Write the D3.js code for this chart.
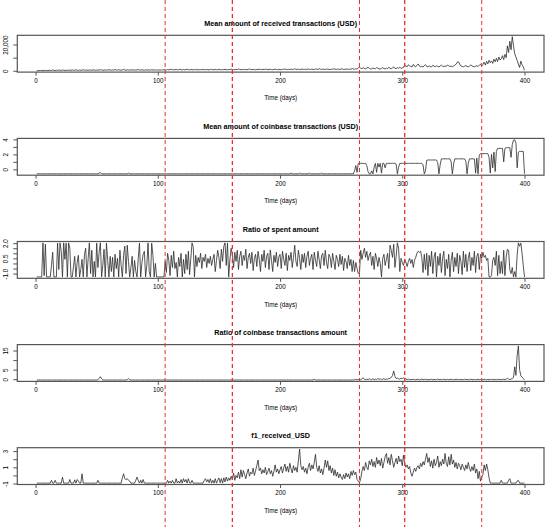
<!DOCTYPE html>
<head>
<meta charset="utf-8">
<style>
  body { margin:0; background:#fff; }
  text { font-family: "Liberation Sans", Arial, sans-serif; fill:#000; }
  .title { font-weight:bold; font-size:7.2px; }
  .tick text { font-size:6.3px; }
  .xlab { font-size:6.3px; }
  .series { fill:none; stroke:#2b2b2b; stroke-width:0.8px; stroke-linejoin:round; }
  .frame { fill:none; stroke:#555; stroke-width:1.2px; }
  .event { stroke:#ee2c2c; stroke-dasharray:4,3; }
</style>
</head>
<body>
<script src="https://cdn.jsdelivr.net/npm/d3@7"></script>
<script>

var width = 550,
    height = 527;

// days 1..400, one value per day
var days = d3.range(1, 401);

var eventDays = [106, 161, 265, 302, 365];

var titles = ["Mean amount of received transactions (USD)",
              "Mean amount of coinbase transactions (USD)",
              "Ratio of spent amount",
              "Ratio of coinbase transactions amount",
              "f1_received_USD"];

var xTicks = [0, 100, 200, 300, 400];

var yTicks1 = [0, 10000, 20000],        yLabels1 = ["0", "", "20,000"];
var yTicks2 = [0, 1, 2, 3, 4],          yLabels2 = ["0", "", "2", "", "4"];
var yTicks3 = [-1, -0.5, 0, 0.5, 1, 1.5, 2], yLabels3 = ["-1.0", "", "", "0.5", "", "", "2.0"];
var yTicks4 = [0, 5, 10, 15],           yLabels4 = ["0", "5", "", "15"];
var yTicks5 = [-1, 0, 1, 2, 3],         yLabels5 = ["-1", "", "1", "", "3"];

var receivedUSD = [
  0,120,80,200,150,90,310,180,240,120,400,260,150,700,220,180,350,260,520,310,
  240,600,350,180,420,300,520,260,380,650,300,450,720,380,260,540,410,330,800,460,
  380,520,290,610,450,370,700,520,330,480,640,400,900,560,420,380,700,510,460,820,
  540,380,620,470,900,600,450,720,520,380,640,980,560,430,700,520,610,450,760,540,
  420,680,530,900,610,470,750,520,380,660,480,720,560,420,810,600,470,690,530,450,
  620,480,700,560,850,640,500,900,700,820,1100,800,650,950,720,880,640,1200,780,650,
  900,700,820,1150,860,700,980,820,640,1050,830,700,950,660,880,760,1020,700,830,950,
  760,650,900,1100,800,690,980,870,720,1150,830,650,900,760,1020,870,690,940,800,1250,
  940,830,720,1050,900,1300,1000,800,940,720,1080,900,790,1010,1400,940,830,1080,870,760,
  1010,870,1200,940,800,1080,900,1300,1010,830,940,1150,870,760,1050,1230,940,830,1080,900,
  800,1150,970,1400,1010,870,1080,940,1230,1050,900,1550,1080,940,1200,1010,870,1300,1080,970,
  1150,940,1450,1080,970,1230,1050,900,1380,1120,1010,1600,1150,970,1270,1080,940,1340,1150,1050,
  940,1230,1080,1520,1150,1010,1300,1120,970,1450,1230,1080,1010,1380,1150,1050,1270,1120,1700,1300,
  1200,1500,1300,2200,2800,1800,1500,2400,1700,1400,2000,2600,1800,1500,1300,2100,1700,1500,2400,1900,
  1500,1300,1800,2300,1700,1400,2000,1600,2600,1900,1500,2200,3000,1800,1600,2300,1900,2800,1700,2200,
  2500,4200,3600,3000,4500,3800,3200,2900,4800,3500,3100,4000,5200,3600,3000,3400,2800,3900,4600,3300,
  3000,3700,3200,2900,4100,3500,3100,3800,3300,2900,3600,4300,3500,3100,3700,3300,4400,3800,3200,3500,
  3000,3600,4200,5000,6500,6800,5000,3600,3200,3000,3500,3900,3300,3000,3600,4400,3700,3200,3000,3400,
  3800,3200,4200,5000,3600,4800,6500,4300,7200,5200,8000,6100,7500,5600,8800,6800,9500,7000,10500,8200,
  9000,11500,8500,12500,10000,19000,14000,22500,16000,26000,19000,13000,10500,8000,5000,2500,7300,4500,3000,400
];

var coinbaseUSD = [
  -0.6,-0.6,-0.6,-0.6,-0.6,-0.6,-0.6,-0.6,-0.6,-0.6,-0.6,-0.6,-0.6,-0.6,-0.6,-0.6,-0.6,-0.6,-0.6,-0.6,
  -0.6,-0.6,-0.6,-0.6,-0.6,-0.6,-0.6,-0.6,-0.6,-0.6,-0.6,-0.6,-0.6,-0.6,-0.6,-0.6,-0.6,-0.6,-0.6,-0.6,
  -0.6,-0.6,-0.6,-0.6,-0.6,-0.6,-0.6,-0.6,-0.6,-0.6,-0.6,-0.5,-0.45,-0.55,-0.6,-0.6,-0.6,-0.6,-0.6,-0.6,
  -0.6,-0.6,-0.6,-0.6,-0.6,-0.6,-0.6,-0.6,-0.6,-0.6,-0.6,-0.6,-0.6,-0.6,-0.6,-0.5,-0.6,-0.6,-0.6,-0.6,
  -0.6,-0.6,-0.6,-0.6,-0.6,-0.6,-0.6,-0.6,-0.6,-0.6,-0.6,-0.6,-0.6,-0.6,-0.6,-0.6,-0.6,-0.6,-0.6,-0.6,
  -0.6,-0.6,-0.6,-0.6,-0.6,-0.6,-0.6,-0.6,-0.6,-0.6,-0.6,-0.6,-0.6,-0.6,-0.6,-0.6,-0.6,-0.6,-0.6,-0.6,
  -0.6,-0.6,-0.6,-0.6,-0.6,-0.6,-0.6,-0.6,-0.6,-0.6,-0.6,-0.6,-0.6,-0.6,-0.6,-0.6,-0.6,-0.6,-0.6,-0.6,
  -0.6,-0.6,-0.6,-0.6,-0.6,-0.6,-0.6,-0.6,-0.6,-0.6,-0.6,-0.6,-0.6,-0.6,-0.6,-0.6,-0.6,-0.6,-0.6,-0.6,
  -0.6,-0.6,-0.6,-0.6,-0.6,-0.6,-0.6,-0.6,-0.6,-0.6,-0.6,-0.6,-0.6,-0.6,-0.6,-0.6,-0.6,-0.6,-0.6,-0.6,
  -0.6,-0.6,-0.6,-0.6,-0.6,-0.6,-0.6,-0.6,-0.6,-0.6,-0.6,-0.6,-0.6,-0.6,-0.6,-0.6,-0.6,-0.6,-0.6,-0.6,
  -0.6,-0.6,-0.6,-0.6,-0.6,-0.6,-0.6,-0.6,-0.5,-0.6,-0.6,-0.6,-0.6,-0.6,-0.6,-0.5,-0.6,-0.6,-0.6,-0.6,
  -0.6,-0.6,-0.6,-0.5,-0.6,-0.6,-0.6,-0.6,-0.6,-0.6,-0.6,-0.6,-0.6,-0.5,-0.6,-0.6,-0.6,-0.6,-0.6,-0.6,
  -0.6,-0.6,-0.6,-0.6,-0.6,-0.6,-0.6,-0.6,-0.6,-0.6,-0.6,-0.6,-0.6,-0.6,-0.6,-0.6,-0.6,-0.6,-0.6,-0.6,
  -0.2,0.5,-0.4,0.8,0.75,0.8,0.8,0.8,0.75,0.8,0.5,-0.3,-0.6,-0.6,-0.2,-0.6,0.3,0.8,-0.4,0.8,
  0.3,0.8,-0.5,0.8,0.8,0.2,0.8,0.8,0.8,0.8,0.8,0.8,0.8,0.8,0.7,-0.6,0.3,0.8,0.8,0.8,
  0.8,0.8,0.8,0.8,0.8,0.8,0.8,0.8,0.8,0.8,0.8,0.8,0.8,0.8,0.8,0.8,0.6,-0.6,-0.2,1.2,
  1.25,1.25,1.25,1.25,1.25,1.25,1.25,1.25,0.9,-0.6,0.6,1.4,1.4,1.4,1.4,1.4,1.4,1.4,1.4,1.0,
  -0.6,0.7,1.4,1.4,1.4,1.4,1.4,1.4,1.4,1.4,1.4,1.1,-0.6,0.8,1.4,1.4,1.4,1.4,1.4,-0.5,
  1.5,-0.6,1.9,2.1,2.1,2.1,2.1,2.1,2.1,2.1,1.6,-0.5,2.0,0.2,2.3,-0.3,2.4,2.8,2.8,2.8,
  2.8,2.8,1.0,2.8,2.9,2.9,2.9,2.9,1.6,3.3,3.9,3.95,3.5,0.2,2.3,2.4,2.4,2.4,2.4,-0.6
];

var spentRatio = [
  -1.33,-1.33,-1.33,-1.33,-1.33,2.03,-1.2,1.9,-1.33,-1.33,-1.33,-1.33,-0.2,1.1,-1.33,-1.33,-1.33,2.0,-0.6,2.03,
  1.2,-1.33,2.03,0.4,2.0,-1.33,2.03,1.5,-1.33,-1.33,-0.3,0.7,-1.33,0.1,0.8,-1.33,-0.6,0.4,-1.33,0.9,
  1.5,-1.33,0.5,2.03,-1.0,1.3,-1.33,0.2,-1.33,2.0,-0.4,1.1,2.03,-1.33,-0.2,1.4,-1.33,2.0,0.3,-1.33,
  0.7,-0.8,0.6,-1.33,0.9,-0.5,0.5,-1.33,1.3,-0.2,-1.33,0.8,1.7,-1.0,1.8,0.2,-1.33,-0.4,0.7,-1.33,
  0.3,-0.8,-1.33,0.5,2.0,-1.33,0.1,0.9,1.2,-1.33,-0.2,2.03,-0.8,-1.33,2.0,0.8,-1.33,0.0,-1.33,-1.33,
  -1.33,-1.33,-1.33,-1.33,-1.33,0.2,-0.9,1.0,0.3,-1.2,0.8,-0.4,1.2,-0.5,0.1,-1.33,0.6,-0.3,1.0,-1.33,
  0.4,-1.0,0.9,-0.6,1.2,-1.1,0.5,2.03,1.6,-1.33,0.8,-0.3,0.6,0.1,1.0,-0.5,0.6,0.2,0.9,-0.4,
  0.5,0.0,0.7,-0.2,0.4,0.9,-0.8,0.3,1.3,0.6,-0.5,1.4,0.2,1.7,2.03,-0.2,2.0,-1.33,0.4,1.5,
  0.9,-0.4,1.1,0.2,1.3,-0.6,0.7,1.2,-0.2,0.8,0.3,1.4,-0.5,0.6,1.0,0.0,1.1,-0.7,0.5,0.9,
  -0.3,1.2,0.4,-0.8,0.9,0.2,1.3,-0.4,0.7,1.0,-0.6,1.33,0.3,-0.8,0.8,0.1,1.1,-0.3,0.6,0.9,
  -0.5,1.2,0.4,-0.2,1.0,-0.7,0.8,0.3,1.1,-0.4,0.6,1.8,0.2,-0.3,1.3,0.5,-0.6,0.9,0.1,1.0,
  -0.4,0.7,1.2,-0.2,0.5,0.9,-0.6,1.1,0.3,-0.3,1.2,0.4,-0.5,0.8,1.0,-0.2,1.3,0.1,-0.5,0.9,
  0.6,-0.4,1.0,0.2,-0.6,0.8,0.4,-0.3,0.9,-0.1,0.7,-0.7,0.5,0.2,-0.5,0.8,-0.2,0.4,-0.8,0.3,
  -0.8,0.1,-0.5,-1.0,-0.9,1.3,0.4,1.0,1.5,0.6,1.2,0.3,0.8,1.1,-0.2,0.7,-0.6,1.0,0.5,-0.3,
  0.6,0.0,-1.33,0.5,0.9,-0.2,0.4,1.0,-0.5,1.8,1.3,0.6,1.9,-0.4,0.7,2.03,1.5,-0.8,0.5,0.1,
  -0.2,0.4,0.1,-0.3,0.2,0.5,0.0,0.4,-0.4,0.3,0.6,1.0,1.2,1.1,1.2,0.6,-0.9,0.9,-0.6,1.0,
  -1.2,0.8,-0.3,1.2,-1.0,0.6,1.1,-1.33,0.7,-0.2,1.0,-0.9,0.5,1.2,-1.2,0.4,-0.5,0.9,-1.33,0.3,
  1.1,-0.8,0.6,-0.3,1.0,-1.0,0.8,0.2,-1.1,1.2,-0.4,0.9,-0.8,0.5,1.1,-0.7,0.6,-0.2,1.2,-0.9,
  0.7,1.0,-0.6,0.9,0.5,1.1,0.6,0.8,0.3,0.5,-1.33,-1.33,-1.2,0.3,0.6,-0.2,1.2,-1.2,0.8,-1.0,
  0.2,-1.0,1.3,-1.2,0.6,1.4,1.3,-0.6,-1.0,-0.4,-1.33,-0.8,-1.33,0.9,2.03,1.7,2.0,1.0,-0.2,-1.33
];

var coinbaseRatio = [
  -0.45,-0.45,-0.4,-0.45,-0.45,-0.4,-0.45,-0.45,-0.45,-0.4,-0.45,-0.45,-0.4,-0.45,-0.45,-0.45,-0.4,-0.45,-0.45,-0.45,
  -0.4,-0.45,-0.45,-0.45,-0.4,-0.45,-0.45,-0.4,-0.45,-0.45,-0.45,-0.4,-0.45,-0.45,-0.45,-0.4,-0.45,-0.45,-0.4,-0.45,
  -0.45,-0.4,-0.45,-0.45,-0.45,-0.4,-0.45,-0.45,-0.4,-0.45,-0.3,0.4,1.3,0.2,-0.4,-0.45,-0.45,-0.4,-0.45,-0.45,
  -0.45,-0.4,-0.45,-0.45,-0.4,-0.45,-0.45,-0.45,-0.4,-0.45,-0.45,-0.4,-0.45,-0.45,-0.2,0.4,-0.3,-0.45,-0.45,-0.4,
  -0.45,-0.45,-0.4,-0.45,-0.45,-0.45,-0.4,-0.45,-0.45,-0.4,-0.45,-0.45,-0.45,-0.4,-0.45,-0.45,-0.4,-0.45,-0.45,-0.45,
  -0.4,-0.45,-0.45,-0.4,-0.45,-0.45,-0.45,-0.4,-0.45,-0.45,-0.4,-0.45,-0.45,-0.45,-0.4,-0.45,-0.45,-0.4,-0.45,-0.45,
  -0.45,-0.4,-0.45,-0.45,-0.4,-0.45,-0.45,-0.45,-0.4,-0.45,-0.45,-0.4,-0.45,-0.45,-0.45,-0.4,-0.45,-0.45,-0.4,-0.45,
  -0.45,-0.45,-0.4,-0.45,-0.45,-0.4,-0.45,-0.45,-0.45,-0.4,-0.45,-0.45,-0.4,-0.45,-0.45,-0.45,-0.4,-0.45,-0.45,-0.4,
  -0.45,-0.45,-0.45,-0.4,-0.45,-0.45,-0.4,-0.45,-0.45,-0.45,-0.4,-0.45,-0.45,-0.4,-0.45,-0.45,-0.45,-0.4,-0.45,-0.45,
  -0.4,-0.45,-0.45,-0.45,-0.4,-0.45,-0.45,-0.4,-0.45,-0.45,-0.45,-0.4,-0.45,-0.45,-0.4,-0.45,-0.45,-0.45,-0.4,-0.45,
  -0.45,-0.4,-0.45,-0.45,-0.45,-0.4,-0.45,-0.45,-0.4,-0.45,-0.45,-0.45,-0.4,-0.45,-0.45,-0.4,-0.45,-0.45,-0.45,-0.4,
  -0.45,-0.45,-0.4,-0.45,-0.45,-0.45,-0.4,0.0,-0.4,-0.45,-0.45,-0.4,-0.45,-0.45,-0.45,-0.4,-0.45,-0.45,-0.4,-0.45,
  -0.45,-0.45,-0.4,-0.45,-0.45,-0.4,-0.45,-0.45,-0.45,-0.4,-0.45,-0.45,-0.4,-0.45,-0.45,-0.45,-0.4,-0.45,-0.45,-0.4,
  -0.3,-0.1,-0.35,-0.2,0.1,-0.3,0.2,0.8,-0.1,-0.3,0.0,-0.2,0.3,-0.3,-0.1,0.2,-0.3,0.0,-0.2,0.3,
  -0.1,0.2,-0.3,0.0,0.3,-0.2,0.1,0.0,0.3,0.5,0.9,2.0,4.3,1.5,0.3,0.6,0.2,0.0,0.5,0.3,
  0.7,0.4,0.1,-0.2,0.0,-0.3,-0.1,-0.3,0.0,-0.2,-0.3,-0.1,0.0,-0.3,-0.2,0.1,-0.3,-0.2,0.0,-0.3,
  -0.1,-0.3,-0.2,0.0,-0.3,-0.1,-0.3,-0.2,0.1,-0.3,-0.2,-0.1,-0.3,0.0,-0.2,-0.3,-0.1,-0.3,-0.2,0.0,
  -0.3,-0.2,-0.1,-0.3,0.0,-0.2,-0.3,-0.1,-0.3,-0.2,0.0,-0.3,-0.1,-0.2,-0.3,0.0,-0.2,-0.3,-0.1,-0.3,
  -0.2,0.0,-0.3,-0.1,-0.2,-0.3,0.0,-0.2,-0.3,-0.1,-0.3,-0.2,0.0,-0.3,-0.1,-0.2,-0.3,0.0,-0.2,-0.3,
  -0.1,-0.2,0.0,-0.3,0.1,0.5,0.0,-0.2,0.1,0.3,0.8,6.5,2.0,12.6,17.4,5.0,1.8,1.0,0.4,-0.4
];

var f1Received = [
  -0.95,-0.95,-0.95,-0.95,-0.95,-0.95,-0.95,-0.95,-0.95,-0.95,-0.95,-0.95,-0.6,-0.95,-0.95,-0.6,-0.95,-0.95,-0.95,-0.95,
  -0.95,-0.2,-0.95,-0.95,-0.95,-0.95,-0.95,-0.5,-0.95,-0.95,-0.95,-0.55,-0.95,-0.5,-0.7,-0.95,-0.95,0.2,-0.95,-0.95,
  -0.95,-0.95,-0.95,-0.95,-0.95,-0.95,-0.95,-0.95,-0.95,-0.95,-0.6,-0.95,-0.95,-0.95,-0.95,-0.95,-0.95,-0.95,-0.95,-0.95,
  -0.95,-0.95,-0.95,-0.95,-0.95,-0.95,-0.95,-0.95,-0.95,-0.95,-0.3,0.2,-0.4,-0.5,-0.4,-0.6,-0.7,-0.95,-0.95,-0.95,
  -0.95,-0.6,-0.2,-0.6,-0.95,-0.6,-0.95,-0.5,-0.95,-0.95,-0.95,-0.95,-0.95,-0.95,-0.95,-0.95,-0.95,-0.95,-0.95,-0.95,
  -0.95,-0.95,-0.95,-0.95,-0.95,-0.95,-0.95,-0.6,-0.95,-0.7,-0.95,-0.6,-0.95,-0.95,-0.4,-0.95,-0.7,-0.95,-0.5,-0.95,
  -0.4,-0.8,-0.5,-0.95,-0.4,-0.9,-0.95,-0.6,-0.95,-0.95,-0.95,-0.95,-0.95,-0.95,-0.95,-0.95,-0.95,-0.6,-0.4,-0.8,
  -0.5,-0.9,-0.4,-0.95,-0.6,-0.95,-0.4,-0.95,-0.6,-0.3,-0.9,-0.4,-0.95,-0.3,-0.8,-0.2,-0.7,-0.3,-0.6,-0.1,
  -0.5,0.3,-0.6,0.0,-0.3,0.4,-0.4,0.7,-0.2,0.6,0.1,-0.4,0.3,0.8,-0.1,0.4,0.2,0.9,0.0,0.6,
  1.2,1.9,0.6,0.9,0.2,0.7,0.3,1.0,0.1,0.5,0.9,0.2,0.6,-0.1,0.5,1.3,0.4,0.8,0.2,0.7,
  1.1,0.3,0.9,1.4,0.5,1.1,0.4,1.5,0.8,0.3,1.2,0.6,1.0,0.4,1.8,3.25,1.2,0.7,1.1,0.4,
  0.9,0.2,1.0,1.5,0.6,1.3,0.8,1.6,2.6,1.0,0.5,1.2,0.3,0.8,0.1,0.9,1.9,1.0,1.8,0.6,
  1.2,0.3,0.9,0.0,0.7,-0.1,0.4,-0.3,0.2,-0.2,-0.5,0.1,-0.4,0.3,-0.2,0.2,-0.4,0.5,0.0,0.6,
  0.1,0.4,-0.5,-0.7,-0.9,-0.4,0.5,1.1,0.6,1.6,1.0,0.7,1.8,1.3,2.0,1.1,1.7,1.0,2.2,1.4,
  1.9,1.2,2.1,0.9,1.6,2.3,2.7,1.5,2.2,1.3,2.6,1.8,1.0,1.6,2.1,1.4,2.4,1.7,2.0,1.2,
  2.5,1.4,1.0,1.3,0.8,1.1,0.3,-0.1,0.4,0.9,0.5,1.0,1.2,0.8,1.5,1.1,1.7,1.3,2.0,2.7,
  1.6,2.2,1.1,1.8,0.9,2.0,1.2,1.6,2.4,1.0,1.7,1.2,2.0,1.4,2.7,1.5,1.1,2.3,1.3,2.6,
  1.4,1.9,1.0,1.6,0.8,1.5,1.2,0.7,1.4,1.0,0.6,1.3,0.8,1.6,0.9,0.5,1.1,0.6,1.4,0.3,
  0.8,-0.4,0.5,-0.7,-0.2,0.1,1.3,0.6,1.4,0.7,-0.3,-0.95,-0.95,-0.95,-0.95,-0.95,-0.95,-0.95,-0.95,-0.95,
  -0.6,-0.95,-0.95,-0.95,-0.95,-0.95,-0.6,-0.4,-0.95,-0.95,-0.95,-0.95,-0.95,-0.7,-0.6,-0.95,-0.95,-0.95,-0.95,-0.95
];

var series = [receivedUSD, coinbaseUSD, spentRatio, coinbaseRatio, f1Received];
var yTicks = [yTicks1, yTicks2, yTicks3, yTicks4, yTicks5];
var yLabels = [yLabels1, yLabels2, yLabels3, yLabels4, yLabels5];

var left = 17.3, right = 544,
    top0 = 35.3, step = 103.1, panelH = 36.8;

var svg = d3.select("body").append("svg")
    .attr("width", width)
    .attr("height", height);

// R style 4% padding on both axes
function padded(ext) {
  var p = 0.04 * (ext[1] - ext[0]);
  return [ext[0] - p, ext[1] + p];
}

var x = d3.scaleLinear()
    .domain(padded(d3.extent(days)))
    .range([left, right]);

series.forEach(function(vals, i) {
  var top = top0 + i * step,
      bottom = top + panelH;

  var y = d3.scaleLinear()
      .domain(padded(d3.extent(vals)))
      .range([bottom, top]);

  var g = svg.append("g");

  var line = d3.line()
      .x(function(d, j) { return x(days[j]); })
      .y(function(d) { return y(d); });

  g.append("path")
    .datum(vals)
    .attr("class", "series")
    .attr("d", line);

  g.append("rect")
    .attr("class", "frame")
    .attr("x", left).attr("y", top)
    .attr("width", right - left).attr("height", panelH);

  var xa = g.append("g")
      .attr("transform", "translate(0," + bottom + ")")
      .call(d3.axisBottom(x).tickValues(xTicks).tickSize(3.5).tickPadding(2.8));
  xa.select(".domain").remove();
  xa.selectAll("line").attr("stroke", "#555");

  var labs = yLabels[i];
  var ya = g.append("g")
      .attr("transform", "translate(" + left + ",0)")
      .call(d3.axisLeft(y).tickValues(yTicks[i]).tickSize(4)
        .tickFormat(function(d, k) { return labs[k]; }));
  ya.select(".domain").remove();
  ya.selectAll("line").attr("stroke", "#555");
  ya.selectAll("text")
    .attr("x", null).attr("dy", null)
    .attr("text-anchor", "middle")
    .attr("transform", "translate(-9,0) rotate(-90)");

  g.append("text")
    .attr("class", "title")
    .attr("x", (left + right) / 2)
    .attr("y", top - 9.8)
    .attr("text-anchor", "middle")
    .text(titles[i]);

  g.append("text")
    .attr("class", "xlab")
    .attr("x", (left + right) / 2)
    .attr("y", bottom + 28.2)
    .attr("text-anchor", "middle")
    .text("Time (days)");
});

// vertical event markers across all panels
svg.selectAll(".event")
  .data(eventDays)
  .enter().append("line")
  .attr("class", "event")
  .attr("x1", function(d) { return x(d); })
  .attr("x2", function(d) { return x(d); })
  .attr("y1", 0)
  .attr("y2", height)
  .style("stroke-width", function(d, i) { return i % 2 ? 1.3 : 1; });

</script>
</body>
